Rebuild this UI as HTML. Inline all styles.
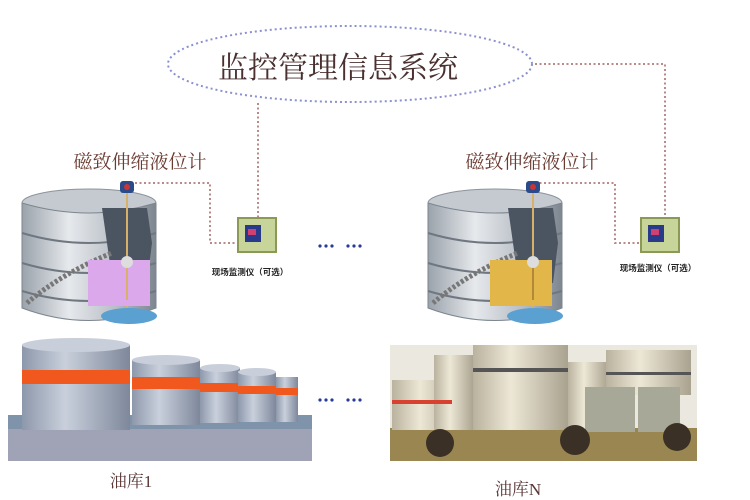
<!DOCTYPE html>
<html><head><meta charset="utf-8"><style>
body{margin:0;background:#fff;}
svg{display:block;}
</style></head><body>
<svg width="750" height="500" xmlns="http://www.w3.org/2000/svg">
<defs>
<linearGradient id="tg" x1="0" x2="1"><stop offset="0" stop-color="#9aa2ab"/><stop offset="0.35" stop-color="#e6e9ec"/><stop offset="0.7" stop-color="#b8bec6"/><stop offset="1" stop-color="#7d858f"/></linearGradient>
<linearGradient id="wg" x1="0" x2="1"><stop offset="0" stop-color="#b9b29e"/><stop offset="0.4" stop-color="#ede7d6"/><stop offset="1" stop-color="#a9a28f"/></linearGradient>
<linearGradient id="sg" x1="0" x2="1"><stop offset="0" stop-color="#8d98ab"/><stop offset="0.4" stop-color="#c9d0dc"/><stop offset="1" stop-color="#7e889b"/></linearGradient>
<g id="tank">
<ellipse cx="67" cy="20" rx="67" ry="14" fill="#c5cad0" stroke="#8c939b"/>
<path d="M0 20 V125 Q67 150 134 125 V20 Q67 40 0 20Z" fill="url(#tg)" stroke="#7d858f"/>
<path d="M0 50 Q67 70 134 50 M0 80 Q67 100 134 80 M0 108 Q67 128 134 108" stroke="#6f7780" fill="none" stroke-width="2"/>
<path d="M80 25 L125 25 L130 60 L125 100 L90 95 L85 60Z" fill="#4b5561"/>
<path d="M5 120 Q40 90 90 70" stroke="#777" stroke-width="5" stroke-dasharray="3 2" fill="none"/>
<ellipse cx="107" cy="133" rx="28" ry="8" fill="#5aa0d0"/>
<line x1="105" y1="5" x2="105" y2="125" stroke="#d9b06a" stroke-width="2"/>
<circle cx="105" cy="82" r="6" fill="#ddd"/>
<rect x="98" y="-2" width="14" height="12" rx="3" fill="#2a4a8a"/><circle cx="105" cy="4" r="3" fill="#c33"/>
</g>
</defs>

<ellipse cx="350" cy="64" rx="182" ry="38" fill="none" stroke="#8a90d0" stroke-width="2" stroke-dasharray="2 3"/>
<text x="338" y="78" text-anchor="middle" font-family="Liberation Serif,'Noto Serif CJK SC',serif" font-size="30" fill="#4a3030">监控管理信息系统</text>

<g stroke="#b88a8a" stroke-width="2" stroke-dasharray="2 2.5" fill="none">
<path d="M258 103 V218"/>
<path d="M535 64 H665 V218"/>
<path d="M135 183 H210 V243 H238"/>
<path d="M535 183 H615 V243 H640"/>
</g>

<text x="140" y="168" text-anchor="middle" font-family="Liberation Serif,'Noto Serif CJK SC',serif" font-size="19" fill="#6a3a30">磁致伸缩液位计</text>
<text x="532" y="168" text-anchor="middle" font-family="Liberation Serif,'Noto Serif CJK SC',serif" font-size="19" fill="#6a3a30">磁致伸缩液位计</text>

<g transform="translate(22,183)"><use href="#tank"/></g>
<rect x="88" y="260" width="62" height="46" fill="#dca8ec"/>
<line x1="127" y1="262" x2="127" y2="300" stroke="#d9b06a" stroke-width="2"/><circle cx="127" cy="262" r="6" fill="#ddd"/>
<g transform="translate(428,183)"><use href="#tank"/></g>
<rect x="490" y="260" width="62" height="46" fill="#e3b64a"/>
<line x1="533" y1="262" x2="533" y2="300" stroke="#b08a3a" stroke-width="2"/><circle cx="533" cy="262" r="6" fill="#ddd"/>

<rect x="238" y="218" width="38" height="34" fill="#c8d59a" stroke="#8a9a55" stroke-width="2"/>
<rect x="245" y="225" width="16" height="17" fill="#2a3a8a"/><rect x="248" y="229" width="8" height="6" fill="#d04070"/>
<rect x="641" y="218" width="38" height="34" fill="#c8d59a" stroke="#8a9a55" stroke-width="2"/>
<rect x="648" y="225" width="16" height="17" fill="#2a3a8a"/><rect x="651" y="229" width="8" height="6" fill="#d04070"/>
<text x="250" y="275" text-anchor="middle" font-family="Liberation Sans,'Noto Sans CJK SC',sans-serif" font-size="8.5" font-weight="bold" fill="#222">现场监测仪（可选）</text>
<text x="658" y="271" text-anchor="middle" font-family="Liberation Sans,'Noto Sans CJK SC',sans-serif" font-size="8.5" font-weight="bold" fill="#222">现场监测仪（可选）</text>

<g fill="#2a3a9a">
<circle cx="320" cy="246" r="1.6"/><circle cx="326" cy="246" r="1.6"/><circle cx="332" cy="246" r="1.6"/><circle cx="348" cy="246" r="1.6"/><circle cx="354" cy="246" r="1.6"/><circle cx="360" cy="246" r="1.6"/>
<circle cx="320" cy="400" r="1.6"/><circle cx="326" cy="400" r="1.6"/><circle cx="332" cy="400" r="1.6"/><circle cx="348" cy="400" r="1.6"/><circle cx="354" cy="400" r="1.6"/><circle cx="360" cy="400" r="1.6"/>
</g>

<!-- photo 1 -->
<rect x="8" y="425" width="304" height="36" fill="#a0a2b5"/>
<rect x="8" y="415" width="304" height="14" fill="#7f94aa"/>
<g>
<rect x="22" y="345" width="108" height="85" fill="url(#sg)"/><ellipse cx="76" cy="345" rx="54" ry="7" fill="#c8cfda"/><rect x="22" y="370" width="108" height="14" fill="#f0581e"/>
<rect x="132" y="360" width="68" height="65" fill="url(#sg)"/><ellipse cx="166" cy="360" rx="34" ry="5" fill="#c8cfda"/><rect x="132" y="377" width="68" height="12" fill="#f0581e"/>
<rect x="200" y="368" width="40" height="55" fill="url(#sg)"/><ellipse cx="220" cy="368" rx="20" ry="4" fill="#c8cfda"/><rect x="200" y="383" width="40" height="9" fill="#f0581e"/>
<rect x="238" y="372" width="38" height="50" fill="url(#sg)"/><ellipse cx="257" cy="372" rx="19" ry="4" fill="#c8cfda"/><rect x="238" y="386" width="38" height="8" fill="#f0581e"/>
<rect x="276" y="377" width="22" height="45" fill="url(#sg)"/><rect x="276" y="388" width="22" height="7" fill="#f0581e"/>
</g>
<!-- photo 2 -->
<rect x="390" y="345" width="307" height="115" fill="#ebe8e0"/>
<rect x="390" y="428" width="307" height="33" fill="#9a8650"/>
<g>
<rect x="392" y="380" width="70" height="50" fill="url(#wg)"/>
<rect x="434" y="355" width="40" height="75" fill="url(#wg)"/>
<rect x="473" y="345" width="95" height="85" fill="url(#wg)"/><rect x="473" y="368" width="95" height="4" fill="#555"/>
<rect x="568" y="362" width="40" height="68" fill="url(#wg)"/>
<rect x="606" y="350" width="85" height="45" fill="url(#wg)"/><rect x="606" y="372" width="85" height="3" fill="#555"/>
<rect x="585" y="387" width="50" height="45" fill="#a8a898"/><rect x="638" y="387" width="42" height="45" fill="#a8a898"/>
<rect x="392" y="400" width="60" height="4" fill="#d84030"/>
<circle cx="440" cy="443" r="14" fill="#3a3025"/><circle cx="575" cy="440" r="15" fill="#3a3025"/><circle cx="677" cy="437" r="14" fill="#3a3025"/>
</g>

<text x="131" y="487" text-anchor="middle" font-family="Liberation Serif,'Noto Serif CJK SC',serif" font-size="17" fill="#5a3535">油库1</text>
<text x="518" y="495" text-anchor="middle" font-family="Liberation Serif,'Noto Serif CJK SC',serif" font-size="17" fill="#5a3535">油库N</text>
</svg>
</body></html>
